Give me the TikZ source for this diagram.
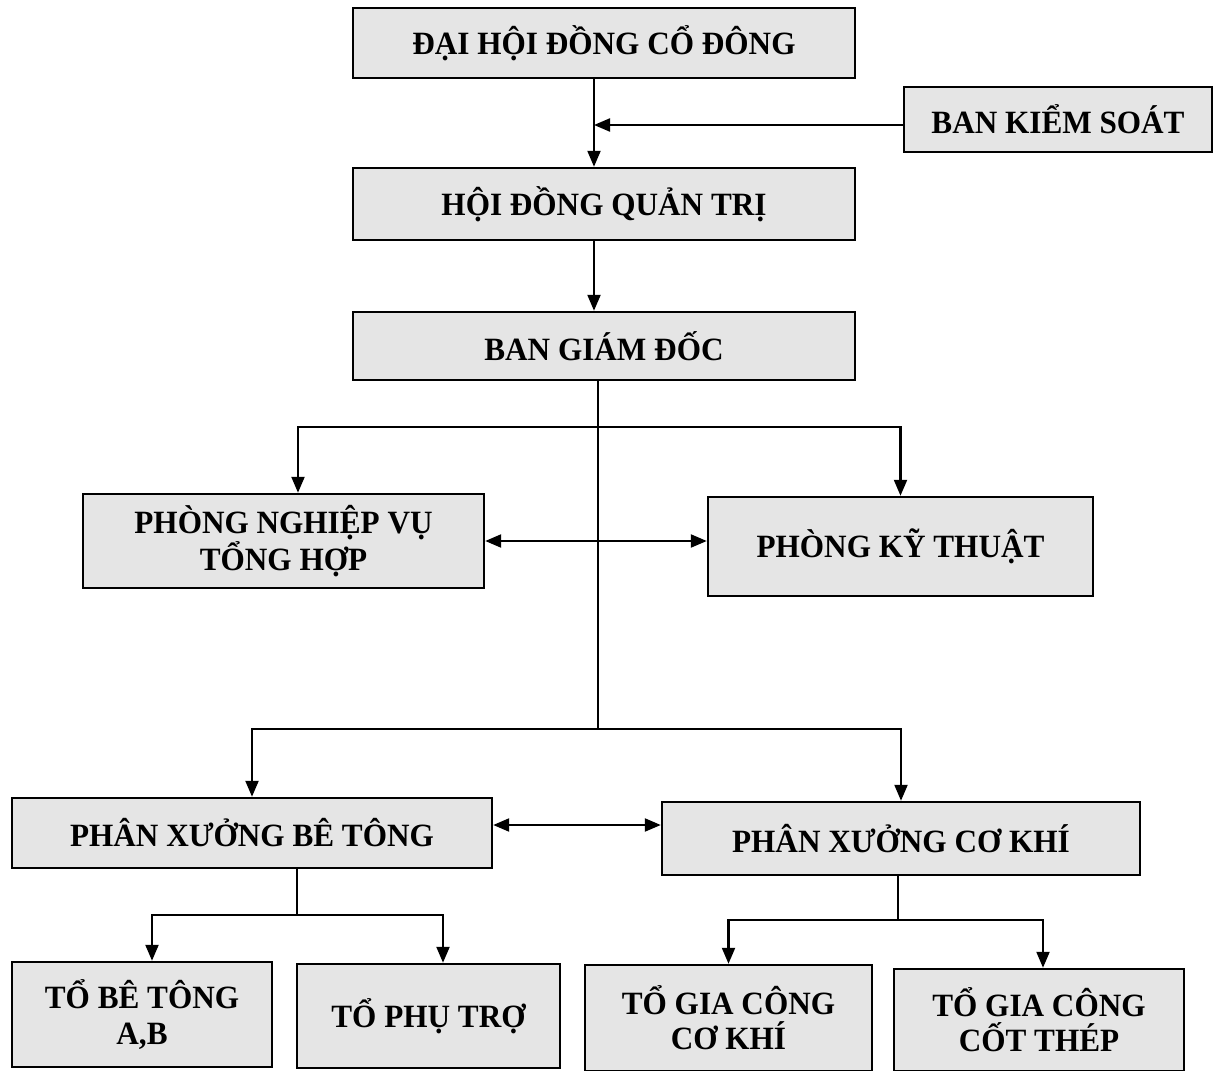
\documentclass[tikz,border=0pt]{standalone}
\usepackage{fontspec}
\setmainfont[FakeStretch=0.96]{Liberation Serif}
\usepackage{tikz}
\usetikzlibrary{
    arrows.meta,
    calc,
    positioning
}
\tikzset{orgbox/.style={draw=black, line width=0.05cm, fill=gray!20, inner sep=0pt, align=center,
    font=\bfseries\fontsize{18.5}{20}\selectfont}}
\tikzset{link/.style={line width=0.045cm}}
\tikzset{arr/.style={link, -{Triangle[length=0.32cm, width=0.26cm]}}}
\tikzset{arrb/.style={link, {Triangle[length=0.32cm, width=0.26cm]}-{Triangle[length=0.32cm, width=0.26cm]}}}

\begin{document}
\begin{tikzpicture}[x=0.02cm, y=-0.02cm]
    \useasboundingbox (0, 0) rectangle (1214, 1071);

    % upper levels
    \node[orgbox, minimum width=10.04cm, minimum height=1.40cm] (dhd) at (604, 43) {ĐẠI HỘI ĐỒNG CỔ ĐÔNG};
    \node[orgbox, minimum width=6.16cm, minimum height=1.30cm] (bks) at (1058, 119.5) {BAN KIỂM SOÁT};
    \node[orgbox, minimum width=10.04cm, minimum height=1.44cm] (hdqt) at (604, 204) {HỘI ĐỒNG QUẢN TRỊ};
    \node[orgbox, minimum width=10.04cm, minimum height=1.36cm] (bgd) at (604, 346) {BAN GIÁM ĐỐC};

    % departments
    \node[orgbox, minimum width=8.02cm, minimum height=1.88cm] (pnv) at (283.5, 541) {PHÒNG NGHIỆP VỤ\\TỔNG HỢP};
    \node[orgbox, minimum width=7.70cm, minimum height=1.98cm] (pkt) at (900.5, 546.5) {PHÒNG KỸ THUẬT};

    % workshops
    \node[orgbox, minimum width=9.60cm, minimum height=1.40cm] (pxbt) at (252, 833) {PHÂN XƯỞNG BÊ TÔNG};
    \node[orgbox, minimum width=9.56cm, minimum height=1.46cm] (pxck) at (901, 838.5) {PHÂN XƯỞNG CƠ KHÍ};

    % teams
    \node[orgbox, minimum width=5.20cm, minimum height=2.10cm] (tbt) at (142, 1014.5) {TỔ BÊ TÔNG\\A,B};
    \node[orgbox, minimum width=5.26cm, minimum height=2.08cm] (tpt) at (428.5, 1016) {TỔ PHỤ TRỢ};
    \node[orgbox, minimum width=5.74cm, minimum height=2.12cm] (tgck) at (728.5, 1018) {TỔ GIA CÔNG\\CƠ KHÍ};
    \node[orgbox, minimum width=5.80cm, minimum height=2.04cm] (tgct) at (1039, 1020) {TỔ GIA CÔNG\\CỐT THÉP};

    % junctions
    \coordinate (spine) at (594, 0);
    \coordinate (kso) at (594, 125);
    \coordinate (busA) at (598, 427);
    \coordinate (busB) at (598, 729);
    \coordinate (xlink) at (0, 825);
    \coordinate (busC) at (297, 915);
    \coordinate (busD) at (898, 920);

    \draw[arr] (dhd.south -| spine) -- (hdqt.north -| spine);
    \draw[arr] (kso -| bks.west) -- (kso);
    \draw[arr] (hdqt.south -| spine) -- (bgd.north -| spine);

    \draw[link] (bgd.south -| busA) -- (busB);
    \draw[arr] (busA) -| ($(pnv.north)+(14.5, 0)$);
    \draw[arr] (busA) -| (pkt.north);
    \draw[arrb] (pnv.east) -- (pnv.east -| pkt.west);

    \draw[arr] (busB) -| (pxbt.north);
    \draw[arr] (busB) -| (pxck.north);
    \draw[arrb] (xlink -| pxbt.east) -- (xlink -| pxck.west);

    \draw[link] (pxbt.south -| busC) -- (busC);
    \draw[arr] (busC) -| ($(tbt.north)+(10, 0)$);
    \draw[arr] (busC) -| ($(tpt.north)+(14.5, 0)$);

    \draw[link] (pxck.south -| busD) -- (busD);
    \draw[arr] (busD) -| (tgck.north);
    \draw[arr] (busD) -| ($(tgct.north)+(4, 0)$);
\end{tikzpicture}
\end{document}
